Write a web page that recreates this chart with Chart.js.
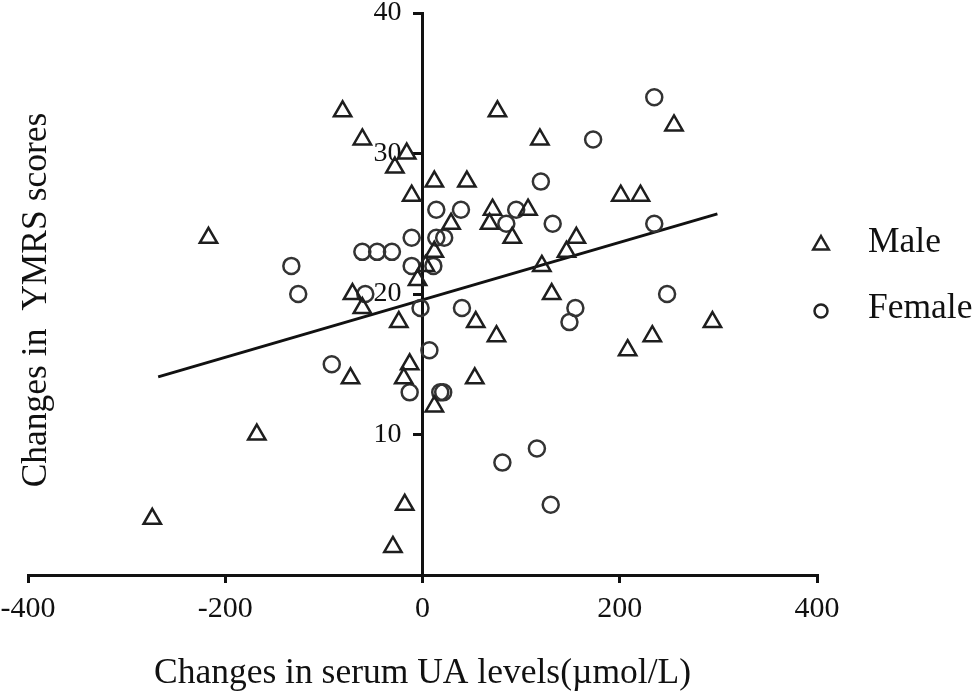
<!DOCTYPE html>
<html>
<head>
<meta charset="utf-8">
<script src="https://cdn.jsdelivr.net/npm/chart.js@4.4.1/dist/chart.umd.min.js"></script>
<style>
  html, body { margin: 0; padding: 0; background: #fff; }
  #wrap { width: 974px; height: 691px; }
</style>
</head>
<body>
<div id="wrap"><canvas id="uaChart"></canvas></div>
<script>
// change in serum UA (x) vs change in YMRS score (y)
const maleX = [-274, -217, -168, -81, -61, -71, -61, -73, -16, -28, -11, -24, -13, -19, -18, -30, -5, 3, 12, 45,
  12, 29, 12, 54, 75, 53, 76, 71, 68, 107, 91, 119, 121, 131, 146, 156, 201, 221, 255, 208, 233, 294];
const maleY = [4, 24, 10, 33, 31, 20, 19, 14, 30, 29, 27, 18, 15, 14, 5, 2, 21, 22, 28, 28,
  23, 25, 12, 18, 17, 14, 33, 26, 25, 26, 24, 31, 22, 20, 23, 24, 27, 27, 32, 16, 17, 18];

const femaleX = [-133, -126, -92, -61, -46, -31, -58, -11, -11, -13, 14, 39, 14, 22, 11, -2, 7, 18, 21, 40,
  81, 116, 130, 120, 95, 85, 132, 173, 235, 235, 248, 155, 149];
const femaleY = [22, 20, 15, 23, 23, 23, 20, 24, 22, 13, 26, 26, 24, 24, 22, 19, 16, 13, 13, 19,
  8, 9, 5, 28, 26, 25, 25, 31, 34, 25, 20, 19, 18];

// fitted regression line (end points)
const fitX = [-268, 299];
const fitY = [14.1, 25.7];

const xTicks = [-400, -200, 0, 200, 400];
const yTicks = [10, 20, 30, 40];

const seriesNames = ["Male", "Female"];
const xTitle = "Changes in serum UA levels(\u00b5mol/L)";
const yTitle = "Changes in  YMRS scores";

const serif = "'Liberation Serif', 'Times New Roman', serif";

const toPoints = (xs, ys) => xs.map((x, i) => ({ x, y: ys[i] }));

// y title and legend drawn by hand so they sit where the original puts them
const extras = {
    id: "extras",
    afterDraw(chart) {
        const { ctx, chartArea } = chart;
        ctx.save();
        ctx.fillStyle = "#111";
        ctx.font = "35.5px " + serif;
        ctx.textAlign = "center";
        ctx.textBaseline = "middle";
        ctx.translate(chartArea.left + 9, chartArea.top + 287);
        ctx.rotate(-Math.PI / 2);
        ctx.fillText(yTitle, 0, 0);
        ctx.restore();

        const mx = chartArea.right + 4;
        const rows = [chartArea.top + 232, chartArea.top + 298];
        ctx.save();
        ctx.strokeStyle = "#222";
        ctx.lineWidth = 2.5;
        const r = 9;
        ctx.beginPath();
        ctx.moveTo(mx, rows[0] - r);
        ctx.lineTo(mx + r * 0.866, rows[0] + r / 2);
        ctx.lineTo(mx - r * 0.866, rows[0] + r / 2);
        ctx.closePath();
        ctx.stroke();
        ctx.beginPath();
        ctx.arc(mx, rows[1], 6.5, 0, Math.PI * 2);
        ctx.stroke();
        ctx.fillStyle = "#111";
        ctx.font = "35.5px " + serif;
        ctx.textAlign = "left";
        ctx.textBaseline = "middle";
        seriesNames.forEach((name, i) => ctx.fillText(name, mx + 47, rows[i] - 2));
        ctx.restore();
    }
};

new Chart(document.getElementById("uaChart"), {
    type: "scatter",
    data: {
        datasets: [
            {
                label: seriesNames[0],
                data: toPoints(maleX, maleY),
                pointStyle: "triangle",
                pointRadius: 10,
                borderWidth: 2.5,
                borderColor: "#1e1e1e",
                backgroundColor: "rgba(0,0,0,0)"
            },
            {
                label: seriesNames[1],
                data: toPoints(femaleX, femaleY),
                pointStyle: "circle",
                pointRadius: 8,
                borderWidth: 2.5,
                borderColor: "#333",
                backgroundColor: "rgba(0,0,0,0)"
            },
            {
                label: "fit",
                type: "line",
                data: toPoints(fitX, fitY),
                showLine: true,
                pointRadius: 0,
                borderWidth: 3,
                borderColor: "#111"
            }
        ]
    },
    options: {
        responsive: true,
        maintainAspectRatio: false,
        animation: false,
        layout: { padding: { top: 13, right: 157, bottom: 0, left: 0 } },
        plugins: {
            legend: { display: false },
            tooltip: { enabled: false }
        },
        scales: {
            x: {
                type: "linear",
                min: -400,
                max: 400,
                afterBuildTicks: (s) => { s.ticks = xTicks.map(v => ({ value: v })); },
                afterFit: (s) => { s.paddingLeft = 28; s.paddingRight = 0; },
                ticks: {
                    color: "#111",
                    font: { family: serif, size: 30 },
                    padding: 8,
                    maxRotation: 0
                },
                grid: { drawOnChartArea: false, drawTicks: true, tickLength: 8, lineWidth: 3, color: "#111" },
                border: { display: true, width: 3, color: "#111" },
                title: {
                    display: true,
                    text: xTitle,
                    color: "#111",
                    font: { family: serif, size: 35.5, lineHeight: 1 },
                    padding: { top: 20.5, bottom: 0 }
                }
            },
            y: {
                type: "linear",
                position: { x: 0 },
                min: 0,
                max: 40,
                afterBuildTicks: (s) => { s.ticks = [0].concat(yTicks).map(v => ({ value: v })); },
                afterFit: (s) => { s.width = 0; s.paddingTop = 0; s.paddingBottom = 0; },
                ticks: {
                    color: "#111",
                    font: { family: serif, size: 28 },
                    // labels sit left of the centred axis
                    callback: (v) => (v === 0 ? "" : v + "\u2002 ")
                },
                grid: { drawOnChartArea: false, drawTicks: true, tickLength: 8, lineWidth: 3, color: "#111" },
                border: { display: true, width: 3, color: "#111" }
            }
        }
    },
    plugins: [extras]
});
</script>
</body>
</html>
